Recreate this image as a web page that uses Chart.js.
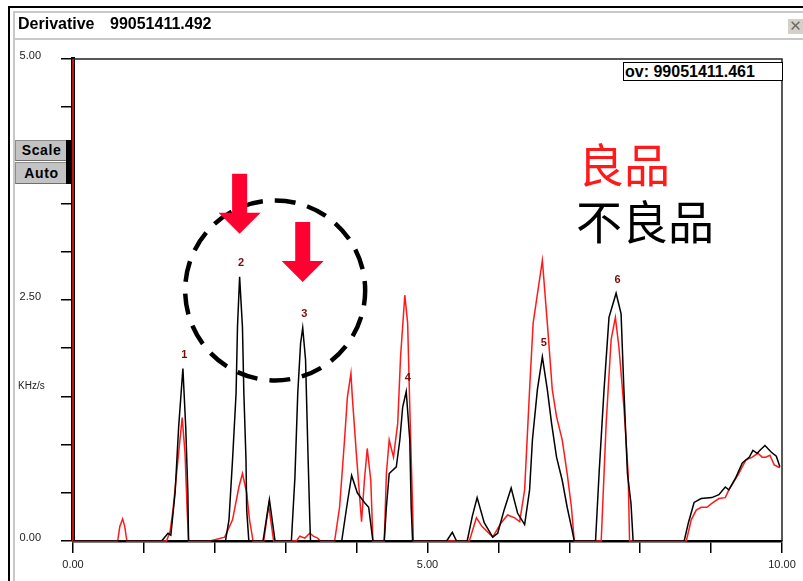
<!DOCTYPE html>
<html>
<head>
<meta charset="utf-8">
<script src="https://cdn.jsdelivr.net/npm/chart.js@4/dist/chart.umd.min.js"></script>
<style>
  html, body { margin: 0; padding: 0; background: #fff; }
  #wrap { position: relative; width: 803px; height: 581px; overflow: hidden; background: #fff;
          font-family: "Liberation Sans", Arial, sans-serif; }
  #chart { position: absolute; left: 0; top: 0; }
  .line { position: absolute; }
  .title { position: absolute; top: 16px; font: bold 16px "Liberation Sans", Arial, sans-serif; color: #000; line-height: 16px; white-space: nowrap; }
  .close { position: absolute; left: 787px; top: 18px; width: 16px; height: 16px; background: #d4d0c8;
           border-top: 1px solid #fff; border-left: 1px solid #fff; box-sizing: border-box;
           color: #6a6a6a; font: 15px "DejaVu Sans", sans-serif; line-height: 14px; text-align: center; }
  .btn { position: absolute; left: 15px; width: 52px; background: #c3c3c3; box-sizing: border-box;
         border-top: 1px solid #8c8c8c; border-left: 1px solid #8c8c8c; border-bottom: 1px solid #6e6e6e;
         font: bold 14px "Liberation Sans", Arial, sans-serif; letter-spacing: 0.6px; color: #000; text-align: center; }
  .ov { position: absolute; left: 623px; top: 62px; width: 160px; height: 19px; box-sizing: border-box;
        border: 1px solid #000; background: #fff; font: bold 16px "Liberation Sans", Arial, sans-serif;
        line-height: 17px; padding-left: 1px; white-space: nowrap; }
  .unit { position: absolute; left: 18px; top: 380px; font: 10px "Liberation Sans", Arial, sans-serif; color: #222; }
</style>
</head>
<body>
<div id="wrap">
  <canvas id="chart" width="803" height="581"></canvas>

  <!-- window frame -->
  <div class="line" style="left:8px;top:6px;width:795px;height:2px;background:#000"></div>
  <div class="line" style="left:13px;top:11px;width:790px;height:2px;background:#c8c8c8"></div>
  <div class="line" style="left:8px;top:6px;width:2px;height:575px;background:#000"></div>
  <div class="line" style="left:13px;top:11px;width:2px;height:570px;background:#c8c8c8"></div>
  <div class="line" style="left:15px;top:38px;width:788px;height:2px;background:#c8c8c8"></div>

  <div class="title" style="left:18px">Derivative</div>
  <div class="title" style="left:110px">99051411.492</div>
  <div class="close">✕</div>

  <div class="btn" style="top:140px;height:21px;line-height:19px">Scale</div>
  <div class="btn" style="top:162px;height:22px;line-height:20px">Auto</div>
  <div class="line" style="left:66px;top:140px;width:6px;height:44px;background:#000"></div>

  <div class="ov">ov: 99051411.461</div>
  <div class="unit">KHz/s</div>
</div>

<script>
// Derivative traces (x in axis units, y in KHz/s)
const seriesNames = ['不良品', '良品'];

const badX = [0, 1.25, 1.34, 1.38, 1.44, 1.49, 1.55, 1.59, 1.62, 1.63,
  2.15, 2.20, 2.25, 2.30, 2.32, 2.35, 2.39, 2.41, 2.44, 2.45, 2.48,
  2.68, 2.77, 2.85,
  3.08, 3.13, 3.17, 3.21, 3.24, 3.28, 3.31, 3.34, 3.35,
  3.79, 3.86, 3.93, 4.01, 4.11, 4.17, 4.23,
  4.39, 4.42, 4.46, 4.56, 4.61, 4.65, 4.70, 4.75, 4.77, 4.79,
  5.27, 5.35, 5.41,
  5.56, 5.63, 5.70, 5.80, 5.92, 5.99, 6.08, 6.18, 6.27, 6.37,
  6.44, 6.48, 6.55, 6.62, 6.69, 6.75, 6.82, 6.90, 6.97, 7.04, 7.07,
  7.37, 7.42, 7.49, 7.56, 7.66, 7.73, 7.77, 7.82, 7.87, 7.90,
  8.62, 8.68, 8.76, 8.86, 9.01, 9.11, 9.20, 9.25, 9.35, 9.44, 9.54,
  9.59, 9.65, 9.70, 9.76, 9.85, 9.92, 9.97];
const badY = [0, 0, 0.08, 0.06, 0.50, 1.18, 1.79, 1.18, 0.50, 0,
  0, 0.22, 0.84, 1.53, 2.22, 2.74, 2.22, 1.53, 0.84, 0.32, 0,
  0, 0.43, 0,
  0, 0.66, 1.53, 2.05, 2.21, 1.88, 1.02, 0.22, 0,
  0, 0.35, 0.68, 0.50, 0.40, 0.35, 0,
  0, 0.35, 0.70, 0.77, 1.05, 1.39, 1.55, 1.05, 0.35, 0,
  0, 0.09, 0,
  0, 0.25, 0.45, 0.19, 0.04, 0.08, 0.32, 0.55, 0.29, 0.17,
  0.53, 1.05, 1.57, 1.91, 1.57, 1.22, 0.87, 0.63, 0.35, 0.11, 0,
  0, 0.70, 1.57, 2.32, 2.57, 2.36, 1.57, 0.70, 0.39, 0,
  0, 0.19, 0.40, 0.44, 0.45, 0.48, 0.56, 0.53, 0.66, 0.81, 0.87,
  0.94, 0.91, 0.95, 0.99, 0.92, 0.88, 0.77];

const goodX = [0, 0, 0.63, 0.66, 0.70, 0.73, 0.76,
  1.32, 1.37, 1.41, 1.48, 1.54, 1.58, 1.61, 1.63,
  1.93, 2.14, 2.25, 2.34, 2.39, 2.45, 2.49, 2.54,
  2.69, 2.76, 2.83,
  3.15, 3.20, 3.27, 3.34, 3.39, 3.45, 3.49,
  3.69, 3.76, 3.83, 3.87, 3.92, 3.94, 4.00, 4.07, 4.11, 4.15, 4.20, 4.23,
  4.39, 4.42, 4.46, 4.52, 4.58, 4.62, 4.68, 4.72, 4.75, 4.79, 4.80,
  5.59, 5.69, 5.77, 5.92, 6.04, 6.13, 6.23, 6.30,
  6.37, 6.44, 6.49, 6.62, 6.69, 6.76, 6.82, 6.90, 6.97, 7.03, 7.07,
  7.45, 7.52, 7.59, 7.65, 7.70, 7.77, 7.83, 7.85,
  8.65, 8.72, 8.79, 8.86, 8.94, 9.01, 9.11, 9.20, 9.25, 9.39, 9.49,
  9.58, 9.66, 9.72, 9.77, 9.83, 9.89, 9.97];
const goodY = [5.0, 0, 0, 0.15, 0.23, 0.15, 0,
  0, 0.10, 0.32, 0.84, 1.28, 0.91, 0.32, 0,
  0, 0.04, 0.22, 0.56, 0.70, 0.50, 0.22, 0,
  0, 0.37, 0,
  0, 0.05, 0.03, 0.08, 0.05, 0.03, 0,
  0, 0.35, 1.05, 1.49, 1.74, 1.49, 0.87, 0.20, 0.63, 0.96, 0.63, 0,
  0, 0.70, 1.05, 0.87, 1.22, 1.91, 2.55, 2.26, 1.39, 0.35, 0,
  0, 0.24, 0.15, 0.04, 0.19, 0.27, 0.24, 0.20,
  0.53, 1.57, 2.26, 2.91, 2.26, 1.57, 1.29, 1.05, 0.70, 0.35, 0,
  0, 1.22, 2.09, 2.32, 2.01, 1.39, 0.70, 0,
  0, 0.22, 0.32, 0.35, 0.35, 0.39, 0.44, 0.45, 0.53, 0.70, 0.84,
  0.87, 0.91, 0.87, 0.87, 0.89, 0.79, 0.76];

// numbered peaks of the 不良品 trace
const peakNumbers = ['1', '2', '3', '4', '5', '6'];
const peakX = [1.55, 2.35, 3.24, 4.70, 6.62, 7.66];
const peakY = [1.79, 2.74, 2.21, 1.55, 1.91, 2.57];
// peaks marked with arrows (indices into the peak lists)
const arrowPeaks = [1, 2];

// axis labels
const xLabelValues = [0, 5, 10];
const yLabelValues = [0, 2.5, 5];

const toPoints = (xs, ys) => xs.map((x, i) => ({ x, y: ys[i] }));
const FONT = '"Liberation Sans", Arial, sans-serif';

// outline box (top + right edge) of the plot area
const frameBox = {
  id: 'frameBox',
  beforeDatasetsDraw(chart) {
    const { ctx, chartArea: a } = chart;
    ctx.save();
    ctx.strokeStyle = '#222';
    ctx.lineWidth = 1.5;
    ctx.beginPath();
    ctx.moveTo(a.left, a.top);
    ctx.lineTo(a.right, a.top);
    ctx.lineTo(a.right, a.bottom);
    ctx.stroke();
    ctx.restore();
  }
};

// peak numbers, highlight circle, arrows and series names
const overlay = {
  id: 'overlay',
  afterDatasetsDraw(chart) {
    const { ctx, scales: { x, y }, chartArea: a } = chart;
    ctx.save();

    // peak numbers
    ctx.fillStyle = '#7a0a0a';
    ctx.font = 'bold 11px ' + FONT;
    ctx.textAlign = 'center';
    ctx.textBaseline = 'middle';
    peakNumbers.forEach((t, i) => {
      ctx.fillText(t, x.getPixelForValue(peakX[i]) + 1.5, y.getPixelForValue(peakY[i]) - 13.5);
    });

    // dashed circle around the two marked peaks
    const p2 = arrowPeaks.map(i => ({ px: x.getPixelForValue(peakX[i]), py: y.getPixelForValue(peakY[i]) }));
    const cx = (p2[0].px + p2[1].px) / 2 + 4;
    const cy = (p2[0].py + p2[1].py) / 2 - 12;
    ctx.strokeStyle = '#000';
    ctx.lineWidth = 4.5;
    ctx.setLineDash([21, 12]);
    ctx.lineDashOffset = 6;
    ctx.beginPath();
    ctx.ellipse(cx, cy, 90, 90, 0, 0, Math.PI * 2);
    ctx.stroke();
    ctx.setLineDash([]);

    // arrows pointing down at the marked peaks
    ctx.fillStyle = '#ff0030';
    arrowPeaks.forEach((i, k) => {
      const tx = x.getPixelForValue(peakX[i]);
      const ty = y.getPixelForValue(peakY[i]) - (k === 0 ? 43 : 46);
      ctx.beginPath();
      ctx.moveTo(tx, ty);
      ctx.lineTo(tx - 21, ty - 21);
      ctx.lineTo(tx - 7.5, ty - 21);
      ctx.lineTo(tx - 7.5, ty - 60);
      ctx.lineTo(tx + 7.5, ty - 60);
      ctx.lineTo(tx + 7.5, ty - 21);
      ctx.lineTo(tx + 21, ty - 21);
      ctx.closePath();
      ctx.fill();
    });

    // series names
    ctx.textAlign = 'left';
    ctx.textBaseline = 'middle';
    const ds = chart.data.datasets;
    ctx.font = '46px "Noto Sans CJK SC", "Noto Sans CJK JP", sans-serif';
    ctx.fillStyle = ds[1].borderColor;
    ctx.fillText(ds[1].label, a.left + 505, a.top + 106);
    ctx.fillStyle = ds[0].borderColor;
    ctx.fillText(ds[0].label, a.left + 503, a.top + 163);

    ctx.restore();
  }
};

new Chart(document.getElementById('chart'), {
  type: 'line',
  data: {
    datasets: [
      { label: seriesNames[0], data: toPoints(badX, badY), borderColor: '#000000', borderWidth: 1.5 },
      { label: seriesNames[1], data: toPoints(goodX, goodY), borderColor: '#ff1a1a', borderWidth: 1.5, clip: 4 }
    ]
  },
  options: {
    responsive: false,
    animation: false,
    devicePixelRatio: 1,
    layout: { padding: { top: 59, right: 21, left: 0, bottom: 0 } },
    plugins: { legend: { display: false }, tooltip: { enabled: false } },
    elements: { point: { radius: 0 }, line: { tension: 0 } },
    scales: {
      x: {
        type: 'linear', min: 0, max: 10,
        afterFit(s) { s.height = 40; },
        border: { color: '#000', width: 2.5 },
        grid: { drawOnChartArea: false, drawTicks: true, tickLength: 12, color: '#000', lineWidth: 1.5 },
        ticks: {
          stepSize: 1, autoSkip: false, maxRotation: 0, padding: 5, color: '#222',
          font: { family: FONT, size: 11 },
          callback: v => xLabelValues.some(t => Math.abs(t - v) < 1e-6) ? v.toFixed(2) : ''
        }
      },
      y: {
        type: 'linear', min: 0, max: 5,
        afterFit(s) { s.width = 73; },
        border: { color: '#000', width: 4 },
        grid: { drawOnChartArea: false, drawTicks: true, tickLength: 12, color: '#000', lineWidth: 1.5 },
        ticks: {
          stepSize: 0.5, autoSkip: false, padding: 20, labelOffset: -3, color: '#222',
          font: { family: FONT, size: 11 },
          callback: v => yLabelValues.some(t => Math.abs(t - v) < 1e-6) ? v.toFixed(2) : ''
        }
      }
    }
  },
  plugins: [frameBox, overlay]
});
</script>
</body>
</html>
